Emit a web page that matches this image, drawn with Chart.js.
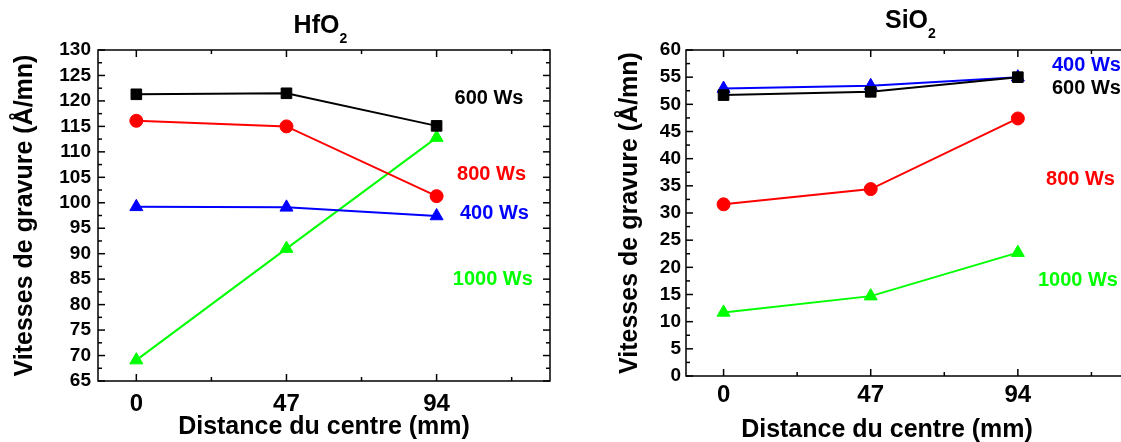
<!DOCTYPE html>
<html>
<head>
<meta charset="utf-8">
<script src="https://cdn.jsdelivr.net/npm/chart.js@4"></script>
<style>
  html, body { margin: 0; padding: 0; background: #fff; overflow: hidden; }
  #wrap { position: relative; width: 1121px; height: 442px; overflow: hidden; background: #fff; }
  #leftBox { position: absolute; left: 0; top: 0; width: 560px; height: 442px; }
  #rightBox { position: absolute; left: 560px; top: 0; width: 579px; height: 442px; }
</style>
</head>
<body>
<div id="wrap">
  <div id="leftBox"><canvas id="hfChart" width="560" height="442"></canvas></div>
  <div id="rightBox"><canvas id="siChart" width="579" height="442"></canvas></div>
</div>
<script>
// distances from wafer centre (mm)
const distances = [0, 47, 94];
const majorTicks = [0, 47, 94];
const minorTicks = [23.5, 70.5, 117.5];
const xRange = [-12, 129.5];

// HfO2 etch rates (A/mn)
const hfRange = [65, 130];
const hf600 = [121.3, 121.5, 115.1];
const hf800 = [116.1, 115.0, 101.3];
const hf400 = [99.2, 99.1, 97.4];
const hf1000 = [69.1, 91.0, 112.8];

// SiO2 etch rates (A/mn)
const siRange = [0, 60];
const si600 = [51.7, 52.3, 55.0];
const si400 = [52.9, 53.4, 55.0];
const si800 = [31.6, 34.4, 47.4];
const si1000 = [11.7, 14.7, 22.7];

const yStep = 5;
const FONT = "'Liberation Sans', Arial, Helvetica, sans-serif";

// box + inward ticks on all four sides (Origin style)
const frameTicks = {
  id: "frameTicks",
  beforeDatasetsDraw(chart) {
    const { ctx, chartArea: a, scales: { x, y } } = chart;
    const line = (x1, y1, x2, y2) => {
      ctx.beginPath(); ctx.moveTo(x1, y1); ctx.lineTo(x2, y2); ctx.stroke();
    };
    ctx.save();
    ctx.strokeStyle = "#000";
    ctx.lineWidth = 1.5;
    ctx.strokeRect(a.left, a.top, a.right - a.left, a.bottom - a.top);
    majorTicks.forEach(v => {
      const px = x.getPixelForValue(v);
      line(px, a.bottom, px, a.bottom - 7);
      line(px, a.top, px, a.top + 7);
    });
    minorTicks.forEach(v => {
      const px = x.getPixelForValue(v);
      line(px, a.bottom, px, a.bottom - 4);
      line(px, a.top, px, a.top + 4);
    });
    y.ticks.forEach((t, i) => {
      const py = y.getPixelForValue(t.value);
      line(a.left, py, a.left + 7, py);
      line(a.right, py, a.right - 7, py);
      if (i < y.ticks.length - 1) {
        const pm = y.getPixelForValue(t.value + yStep / 2);
        line(a.left, pm, a.left + 4, pm);
        line(a.right, pm, a.right - 4, pm);
      }
    });
    ctx.restore();
  }
};

// chart title with subscript, series labels, optional x title
const figText = {
  id: "figText",
  afterDraw(chart, args, opts) {
    const { ctx, scales: { x, y } } = chart;
    ctx.save();
    ctx.fillStyle = "#000";
    ctx.textAlign = "left";
    ctx.textBaseline = "alphabetic";
    ctx.font = "bold 25px " + FONT;
    ctx.fillText(opts.title.main, opts.title.x, opts.title.y);
    const w = ctx.measureText(opts.title.main).width;
    ctx.font = "bold 14px " + FONT;
    ctx.fillText(opts.title.sub, opts.title.x + w, opts.title.y + 10);

    if (opts.xTitle) {
      ctx.font = "bold 25px " + FONT;
      ctx.textAlign = "center";
      ctx.fillText(opts.xTitle.text, opts.xTitle.x, opts.xTitle.y);
    }

    ctx.font = "bold 20px " + FONT;
    ctx.textAlign = "center";
    ctx.textBaseline = "middle";
    opts.labels.forEach(l => {
      ctx.fillStyle = l.color;
      ctx.fillText(l.text, x.getPixelForValue(l.x), y.getPixelForValue(l.y));
    });
    ctx.restore();
  }
};

function series(label, data, color, shape, radius) {
  return {
    label,
    data: distances.map((d, i) => ({ x: d, y: data[i] })),
    borderColor: color,
    backgroundColor: color,
    borderWidth: 2,
    pointStyle: shape,
    pointRadius: radius,
    pointBackgroundColor: color,
    pointBorderColor: color,
    pointBorderWidth: 1,
    tension: 0
  };
}

function makeOptions(range, yWidth, xHeight, padRight, tickPad, yTitlePad, xTitleShow, xTickPad, figOpts) {
  return {
    responsive: false,
    animation: false,
    layout: { padding: { top: 50, right: padRight, left: 0, bottom: 0 } },
    plugins: { legend: { display: false }, tooltip: { enabled: false }, figText: figOpts },
    scales: {
      x: {
        type: "linear",
        min: xRange[0],
        max: xRange[1],
        afterBuildTicks: s => { s.ticks = majorTicks.map(v => ({ value: v })); },
        afterFit: s => { s.height = xHeight; },
        grid: { display: false, drawTicks: false },
        border: { display: false },
        ticks: { color: "#000", padding: xTickPad, font: { family: FONT, size: 24, weight: "bold" } },
        title: {
          display: xTitleShow,
          text: "Distance du centre (mm)",
          color: "#000",
          padding: { top: 0, bottom: 0 },
          font: { family: FONT, size: 25, weight: "bold" }
        }
      },
      y: {
        min: range[0],
        max: range[1],
        afterFit: s => { s.width = yWidth; },
        grid: { display: false, drawTicks: false },
        border: { display: false },
        ticks: {
          stepSize: yStep,
          autoSkip: false,
          color: "#000",
          padding: tickPad,
          font: { family: FONT, size: 19, weight: "bold" }
        },
        title: {
          display: true,
          text: "Vitesses de gravure (Å/mn)",
          color: "#000",
          padding: { top: yTitlePad, bottom: 0 },
          font: { family: FONT, size: 25, weight: "bold" }
        }
      }
    }
  };
}

new Chart(document.getElementById("hfChart"), {
  type: "line",
  data: {
    datasets: [
      series("600 Ws", hf600, "#000000", "rect", 7.5),
      series("800 Ws", hf800, "#ff0000", "circle", 6.5),
      series("400 Ws", hf400, "#0000ff", "triangle", 7.5),
      series("1000 Ws", hf1000, "#00ff00", "triangle", 7.5)
    ]
  },
  options: makeOptions(hfRange, 98, 61, 10, 7, 10, true, 9, {
    title: { main: "HfO", sub: "2", x: 293.6, y: 33 },
    labels: [
      { text: "600 Ws", color: "#000000", x: 110.4, y: 120.4 },
      { text: "800 Ws", color: "#ff0000", x: 111.2, y: 105.5 },
      { text: "400 Ws", color: "#0000ff", x: 112.1, y: 97.9 },
      { text: "1000 Ws", color: "#00ff00", x: 111.6, y: 84.9 }
    ]
  }),
  plugins: [frameTicks, figText]
});

new Chart(document.getElementById("siChart"), {
  type: "line",
  data: {
    datasets: [
      series("600 Ws", si600, "#000000", "rect", 7.5),
      series("400 Ws", si400, "#0000ff", "triangle", 7.5),
      series("800 Ws", si800, "#ff0000", "circle", 6.5),
      series("1000 Ws", si1000, "#00ff00", "triangle", 7.5)
    ]
  },
  options: makeOptions(siRange, 126, 66, 10, 5, 55, false, 5, {
    title: { main: "SiO", sub: "2", x: 325, y: 28 },
    xTitle: { text: "Distance du centre (mm)", x: 327, y: 437 },
    labels: [
      { text: "400 Ws", color: "#0000ff", x: 115.9, y: 57.1 },
      { text: "600 Ws", color: "#000000", x: 115.9, y: 53.0 },
      { text: "800 Ws", color: "#ff0000", x: 114.0, y: 36.2 },
      { text: "1000 Ws", color: "#00ff00", x: 113.2, y: 17.5 }
    ]
  }),
  plugins: [frameTicks, figText]
});
</script>
</body>
</html>
